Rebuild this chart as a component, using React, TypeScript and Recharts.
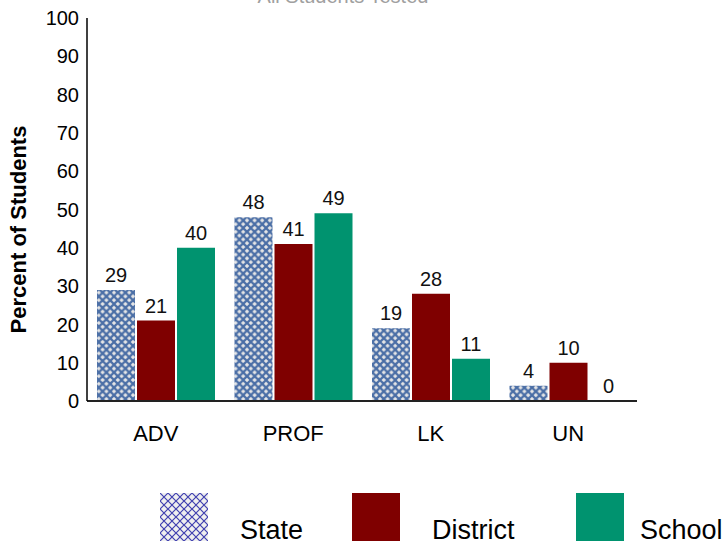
import { Bar, BarChart, LabelList, XAxis, YAxis } from 'recharts';

const categories = ['ADV', 'PROF', 'LK', 'UN'];
const stateValues = [29, 48, 19, 4];
const districtValues = [21, 41, 28, 10];
const schoolValues = [40, 49, 11, 0];
const yTicks = [0, 10, 20, 30, 40, 50, 60, 70, 80, 90, 100];

const seriesNames = ['State', 'District', 'School'];
const DISTRICT = '#7f0000';
const SCHOOL = '#00936f';
const FONT = 'Arial, "Liberation Sans", sans-serif';

const data = categories.map((c, i) => ({
  name: c,
  state: stateValues[i],
  district: districtValues[i],
  school: schoolValues[i],
}));

const labelStyle = { fill: '#111', fontSize: 20, fontFamily: FONT };

// value label drawn above the bar, also for zero-height bars
function TopLabel(props: any) {
  const { x, y, width, value } = props;
  return (
    <text x={x + width / 2} y={y - 8} textAnchor="middle" style={labelStyle}>
      {value}
    </text>
  );
}

function YLabel({ viewBox }: any) {
  const x = viewBox.x - 9;
  const y = viewBox.y + viewBox.height / 2 + 20;
  return (
    <text
      x={x}
      y={y}
      transform={`rotate(-90 ${x} ${y})`}
      textAnchor="middle"
      dominantBaseline="central"
      style={{ fontSize: 22, fontWeight: 'bold', fontFamily: FONT, fill: '#000' }}
    >
      Percent of Students
    </text>
  );
}

function Swatch({ kind }: { kind: number }) {
  if (kind === 0) {
    return (
      <svg width={48} height={48}>
        <defs>
          <pattern id="legendHatch" width={8} height={8} patternUnits="userSpaceOnUse">
            <rect width={8} height={8} fill="#efefef" />
            <path d="M0,0 L8,8 M8,0 L0,8" stroke="#4040b0" strokeWidth={1.2} />
          </pattern>
        </defs>
        <rect width={48} height={48} fill="url(#legendHatch)" />
      </svg>
    );
  }
  return (
    <svg width={48} height={48}>
      <rect width={48} height={48} fill={kind === 1 ? DISTRICT : SCHOOL} />
    </svg>
  );
}

const legendLeft = [160, 352, 576];

export default function App() {
  return (
    <div style={{ position: 'absolute', left: 0, top: 0, width: 726, height: 544, overflow: 'hidden', fontFamily: FONT }}>
      <div
        style={{
          position: 'absolute',
          left: 0,
          width: 686,
          top: -15,
          textAlign: 'center',
          fontSize: 20,
          color: '#a0a0a0',
        }}
      >
        All Students Tested
      </div>
      <BarChart
        width={726}
        height={544}
        data={data}
        margin={{ top: 18, right: 89, left: 27, bottom: 93 }}
        barSize={38}
        barGap={2}
      >
        <defs>
          <pattern id="stateHatch" width={7.6} height={7.6} patternUnits="userSpaceOnUse">
            <rect width={7.6} height={7.6} fill="#e6e6e6" />
            <path d="M0,0 L7.6,7.6 M7.6,0 L0,7.6" stroke="#4a6ea6" strokeWidth={2.2} />
          </pattern>
        </defs>
        <XAxis
          dataKey="name"
          tickLine={false}
          axisLine={{ stroke: '#222', strokeWidth: 2 }}
          tick={{ fill: '#000', fontSize: 22, fontFamily: FONT }}
          tickMargin={18}
          height={50}
        />
        <YAxis
          domain={[0, 100]}
          ticks={yTicks}
          interval={0}
          tickLine={false}
          axisLine={{ stroke: '#000', strokeWidth: 1.5 }}
          tick={{ fill: '#000', fontSize: 20, fontFamily: FONT }}
          width={60}
          label={<YLabel />}
        />
        <Bar dataKey="state" name={seriesNames[0]} fill="url(#stateHatch)" isAnimationActive={false}>
          <LabelList dataKey="state" content={<TopLabel />} />
        </Bar>
        <Bar dataKey="district" name={seriesNames[1]} fill={DISTRICT} isAnimationActive={false}>
          <LabelList dataKey="district" content={<TopLabel />} />
        </Bar>
        <Bar dataKey="school" name={seriesNames[2]} fill={SCHOOL} minPointSize={0.01} isAnimationActive={false}>
          <LabelList dataKey="school" content={<TopLabel />} />
        </Bar>
      </BarChart>
      {seriesNames.map((n, i) => (
        <div
          key={n}
          style={{ position: 'absolute', left: legendLeft[i], top: 493, display: 'flex', alignItems: 'flex-end' }}
        >
          <Swatch kind={i} />
          <span style={{ fontSize: 27, color: '#000', marginLeft: i === 2 ? 16 : 32, lineHeight: '27px', marginBottom: -3 }}>
            {n}
          </span>
        </div>
      ))}
    </div>
  );
}
